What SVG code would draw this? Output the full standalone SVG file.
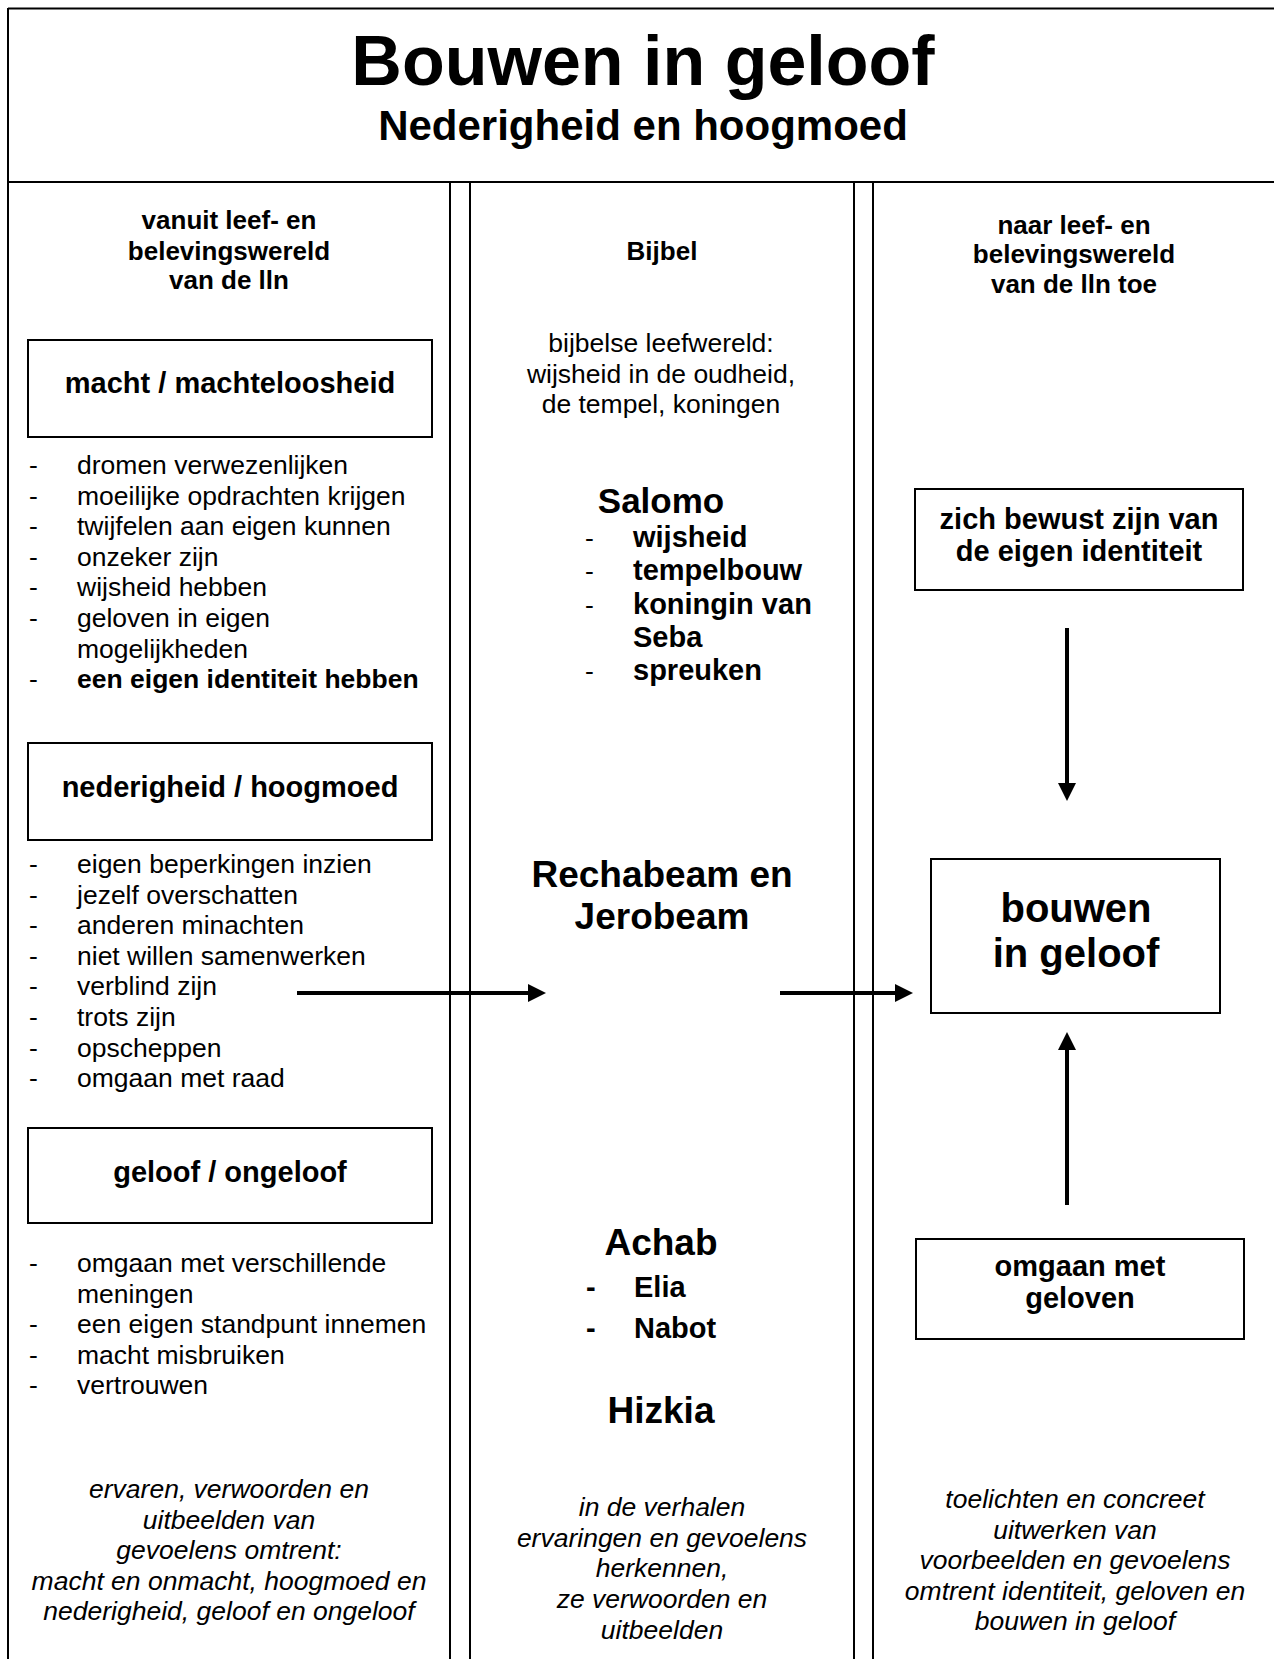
<svg xmlns="http://www.w3.org/2000/svg" width="1274" height="1659" viewBox="0 0 1274 1659">
<style>
  text { font-family: "Liberation Sans", Arial, sans-serif; fill: #000; }
  .title { font-size: 70px; font-weight: bold; text-anchor: middle; }
  .sub { font-size: 42px; font-weight: bold; text-anchor: middle; }
  .hdr { font-size: 26px; font-weight: bold; text-anchor: middle; }
  .box { fill: #fff; stroke: #000; stroke-width: 2; }
  .boxlbl { font-size: 29px; font-weight: bold; text-anchor: middle; }
  .item { font-size: 26.5px; }
  .itemb { font-size: 26.5px; font-weight: bold; }
  .plain { font-size: 26.5px; text-anchor: middle; }
  .ital { font-size: 26.5px; font-style: italic; text-anchor: middle; }
  .name { font-weight: bold; text-anchor: middle; }
  .sub29 { font-size: 29px; font-weight: bold; }
  .dash { font-size: 26.5px; }
  .frame { stroke: #000; stroke-width: 2; fill: none; }
  .conn { stroke: #000; stroke-width: 4; fill: none; }
</style>
<defs>
  <marker id="ah" markerUnits="userSpaceOnUse" markerWidth="18" markerHeight="18" refX="0" refY="9" orient="auto">
    <path d="M0,0 L18,9 L0,18 Z" fill="#000"/>
  </marker>
</defs>
<rect width="1274" height="1659" fill="#fff"/>

<g id="frame">
  <line class="frame" x1="8" y1="8.5" x2="1274" y2="8.5"/>
  <line class="frame" x1="8" y1="8" x2="8" y2="1659"/>
  <line class="frame" x1="8" y1="182" x2="1274" y2="182" stroke-width="2.5"/>
  <line class="frame" x1="450" y1="182" x2="450" y2="1659"/>
  <line class="frame" x1="470" y1="182" x2="470" y2="1659"/>
  <line class="frame" x1="854" y1="182" x2="854" y2="1659"/>
  <line class="frame" x1="873" y1="182" x2="873" y2="1659"/>
</g>

<g id="header">
  <text class="title" x="643" y="85">Bouwen in geloof</text>
  <text class="sub" x="643" y="140">Nederigheid en hoogmoed</text>
</g>

<g id="col-left-header">
  <text class="hdr" x="229" y="229">vanuit leef- en</text>
  <text class="hdr" x="229" y="260">belevingswereld</text>
  <text class="hdr" x="229" y="289">van de lln</text>
</g>
<g id="col-mid-header">
  <text class="hdr" x="662" y="260">Bijbel</text>
</g>
<g id="col-right-header">
  <text class="hdr" x="1074" y="234">naar leef- en</text>
  <text class="hdr" x="1074" y="263">belevingswereld</text>
  <text class="hdr" x="1074" y="293">van de lln toe</text>
</g>

<g id="box-macht">
  <rect class="box" x="28" y="340" width="404" height="97"/>
  <text class="boxlbl" x="230" y="393">macht / machteloosheid</text>
</g>
<g id="list-macht">
  <text class="dash" x="29" y="474">-</text><text class="item" x="77" y="474">dromen verwezenlijken</text>
  <text class="dash" x="29" y="504.6">-</text><text class="item" x="77" y="504.6">moeilijke opdrachten krijgen</text>
  <text class="dash" x="29" y="535.2">-</text><text class="item" x="77" y="535.2">twijfelen aan eigen kunnen</text>
  <text class="dash" x="29" y="565.8">-</text><text class="item" x="77" y="565.8">onzeker zijn</text>
  <text class="dash" x="29" y="596.4">-</text><text class="item" x="77" y="596.4">wijsheid hebben</text>
  <text class="dash" x="29" y="627">-</text><text class="item" x="77" y="627">geloven in eigen</text>
  <text class="item" x="77" y="657.6">mogelijkheden</text>
  <text class="dash" x="29" y="688.2">-</text><text class="itemb" x="77" y="688.2">een eigen identiteit hebben</text>
</g>

<g id="box-nederigheid">
  <rect class="box" x="28" y="743" width="404" height="97"/>
  <text class="boxlbl" x="230" y="797">nederigheid / hoogmoed</text>
</g>
<g id="list-nederigheid">
  <text class="dash" x="29" y="873">-</text><text class="item" x="77" y="873">eigen beperkingen inzien</text>
  <text class="dash" x="29" y="903.6">-</text><text class="item" x="77" y="903.6">jezelf overschatten</text>
  <text class="dash" x="29" y="934.2">-</text><text class="item" x="77" y="934.2">anderen minachten</text>
  <text class="dash" x="29" y="964.8">-</text><text class="item" x="77" y="964.8">niet willen samenwerken</text>
  <text class="dash" x="29" y="995.4">-</text><text class="item" x="77" y="995.4">verblind zijn</text>
  <text class="dash" x="29" y="1026">-</text><text class="item" x="77" y="1026">trots zijn</text>
  <text class="dash" x="29" y="1056.6">-</text><text class="item" x="77" y="1056.6">opscheppen</text>
  <text class="dash" x="29" y="1087.2">-</text><text class="item" x="77" y="1087.2">omgaan met raad</text>
</g>

<g id="box-geloof">
  <rect class="box" x="28" y="1128" width="404" height="95"/>
  <text class="boxlbl" x="230" y="1182">geloof / ongeloof</text>
</g>
<g id="list-geloof">
  <text class="dash" x="29" y="1272">-</text><text class="item" x="77" y="1272">omgaan met verschillende</text>
  <text class="item" x="77" y="1302.5">meningen</text>
  <text class="dash" x="29" y="1333">-</text><text class="item" x="77" y="1333">een eigen standpunt innemen</text>
  <text class="dash" x="29" y="1363.5">-</text><text class="item" x="77" y="1363.5">macht misbruiken</text>
  <text class="dash" x="29" y="1394">-</text><text class="item" x="77" y="1394">vertrouwen</text>
</g>

<g id="note-left">
  <text class="ital" x="229" y="1498">ervaren, verwoorden en</text>
  <text class="ital" x="229" y="1528.6">uitbeelden van</text>
  <text class="ital" x="229" y="1559">gevoelens omtrent:</text>
  <text class="ital" x="229" y="1590">macht en onmacht, hoogmoed en</text>
  <text class="ital" x="229" y="1620">nederigheid, geloof en ongeloof</text>
</g>

<g id="mid-intro">
  <text class="plain" x="661" y="352">bijbelse leefwereld:</text>
  <text class="plain" x="661" y="382.5">wijsheid in de oudheid,</text>
  <text class="plain" x="661" y="413">de tempel, koningen</text>
</g>

<g id="salomo">
  <text class="name" x="661" y="513" font-size="35">Salomo</text>
  <text class="dash" x="585" y="547">-</text><text class="sub29" x="633" y="547">wijsheid</text>
  <text class="dash" x="585" y="580.3">-</text><text class="sub29" x="633" y="580.3">tempelbouw</text>
  <text class="dash" x="585" y="613.6">-</text><text class="sub29" x="633" y="613.6">koningin van</text>
  <text class="sub29" x="633" y="646.9">Seba</text>
  <text class="dash" x="585" y="680.2">-</text><text class="sub29" x="633" y="680.2">spreuken</text>
</g>

<g id="rechabeam">
  <text class="name" x="662" y="887" font-size="37">Rechabeam en</text>
  <text class="name" x="662" y="929" font-size="37">Jerobeam</text>
</g>

<g id="achab">
  <text class="name" x="661" y="1255" font-size="37">Achab</text>
  <text class="sub29" x="586" y="1297">-</text><text class="sub29" x="634" y="1297">Elia</text>
  <text class="sub29" x="586" y="1338">-</text><text class="sub29" x="634" y="1338">Nabot</text>
</g>

<g id="hizkia">
  <text class="name" x="661" y="1423" font-size="37">Hizkia</text>
</g>

<g id="note-mid">
  <text class="ital" x="662" y="1516">in de verhalen</text>
  <text class="ital" x="662" y="1546.7">ervaringen en gevoelens</text>
  <text class="ital" x="662" y="1577.4">herkennen,</text>
  <text class="ital" x="662" y="1608.1">ze verwoorden en</text>
  <text class="ital" x="662" y="1638.8">uitbeelden</text>
</g>

<g id="box-identiteit">
  <rect class="box" x="915" y="489" width="328" height="101"/>
  <text class="boxlbl" x="1079" y="529">zich bewust zijn van</text>
  <text class="boxlbl" x="1079" y="561">de eigen identiteit</text>
</g>

<g id="box-bouwen">
  <rect class="box" x="931" y="859" width="289" height="154" stroke-width="2.5"/>
  <text class="name" x="1076" y="922" font-size="40">bouwen</text>
  <text class="name" x="1076" y="967" font-size="40">in geloof</text>
</g>

<g id="box-omgaan">
  <rect class="box" x="916" y="1239" width="328" height="100"/>
  <text class="boxlbl" x="1080" y="1276">omgaan met</text>
  <text class="boxlbl" x="1080" y="1308">geloven</text>
</g>

<g id="note-right">
  <text class="ital" x="1075" y="1508">toelichten en concreet</text>
  <text class="ital" x="1075" y="1538.5">uitwerken van</text>
  <text class="ital" x="1075" y="1569">voorbeelden en gevoelens</text>
  <text class="ital" x="1075" y="1599.5">omtrent identiteit, geloven en</text>
  <text class="ital" x="1075" y="1630">bouwen in geloof</text>
</g>

<g id="connectors">
  <line class="conn" x1="297" y1="993" x2="528" y2="993" marker-end="url(#ah)"/>
  <line class="conn" x1="780" y1="993" x2="895" y2="993" marker-end="url(#ah)"/>
  <line class="conn" x1="1067" y1="628" x2="1067" y2="783" marker-end="url(#ah)"/>
  <line class="conn" x1="1067" y1="1205" x2="1067" y2="1050" marker-end="url(#ah)"/>
</g>
</svg>
